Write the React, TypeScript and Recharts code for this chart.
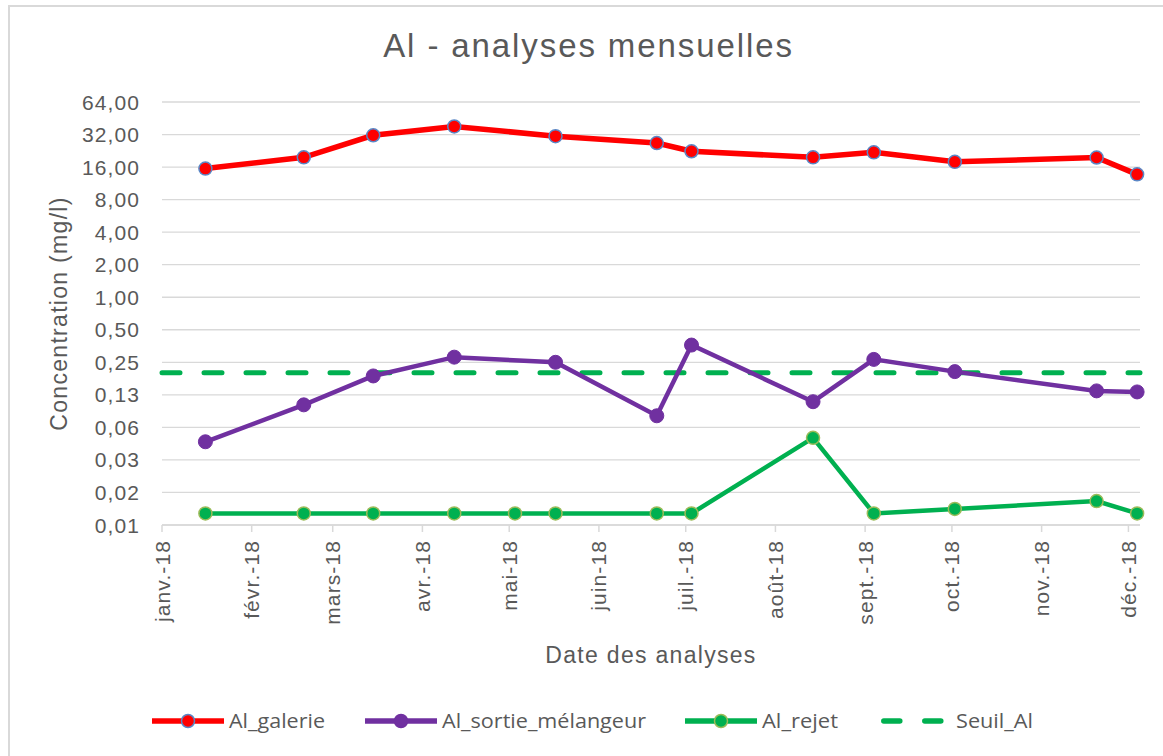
import { LineChart, Line, XAxis, YAxis, CartesianGrid, ReferenceLine, Label } from "recharts";

const sampleDates = [
  "2018-01-16", "2018-02-19", "2018-03-15", "2018-04-12", "2018-05-03", "2018-05-17", "2018-06-21",
  "2018-07-03", "2018-08-14", "2018-09-04", "2018-10-02", "2018-11-20", "2018-12-04",
];
const alGalerie = [15.5, 19.7, 31.5, 38, null, 30.9, 26.7, 22.4, 19.7, 21.9, 17.9, 19.6, 13.7];
const alSortieMelangeur = [0.046, 0.101, 0.187, 0.279, null, 0.25, 0.08, 0.361, 0.108, 0.266, 0.205, 0.136, 0.133];
const alRejet = [0.01, 0.01, 0.01, 0.01, 0.01, 0.01, 0.01, 0.01, 0.05, 0.01, 0.011, 0.013, 0.01];
const seuilAl = 0.2;

const monthStarts = [
  "2018-01-01", "2018-02-01", "2018-03-01", "2018-04-01", "2018-05-01", "2018-06-01",
  "2018-07-01", "2018-08-01", "2018-09-01", "2018-10-01", "2018-11-01", "2018-12-01",
];
const monthLabels = [
  "janv.-18", "févr.-18", "mars-18", "avr.-18", "mai-18", "juin-18",
  "juil.-18", "août-18", "sept.-18", "oct.-18", "nov.-18", "déc.-18",
];
const axisEndDate = "2018-12-05";
const yTicks = [0.0078125, 0.015625, 0.03125, 0.0625, 0.125, 0.25, 0.5, 1, 2, 4, 8, 16, 32, 64];

const DAY = 86400000;
const toDay = (s: string) => (Date.parse(s) - Date.parse("2018-01-01")) / DAY;

const data = sampleDates.map((d, i) => ({
  day: toDay(d),
  galerie: alGalerie[i],
  melangeur: alSortieMelangeur[i],
  rejet: alRejet[i],
}));
const monthTicks = monthStarts.map(toDay);

const TEXT = "#595959";
const FONT = "'Liberation Sans', Arial, sans-serif";
const RED = "#FF0000";
const BLUE = "#5A87C6";
const PURPLE = "#7030A0";
const GREEN = "#00B050";
const OLIVE = "#9BBB59";

const MonthTick = ({ x, y, payload }: any) => {
  const label = monthLabels[monthTicks.indexOf(payload.value)];
  return (
    <text
      x={x}
      y={y}
      dy="0.36em"
      transform={`rotate(-90 ${x} ${y})`}
      textAnchor="end"
      fill={TEXT}
      fontSize={21}
      fontFamily={FONT}
      letterSpacing={1.1}
    >
      {label}
    </text>
  );
};

const ValueTick = ({ x, y, payload }: any) => (
  <text x={x} y={y} dy="0.36em" textAnchor="end" fill={TEXT} fontSize={21} fontFamily={FONT} letterSpacing={1.1}>
    {payload.value.toFixed(2).replace(".", ",")}
  </text>
);

// legend placement (Excel-style row under the chart)
const legendItems = [
  { name: "Al_galerie", color: RED, marker: BLUE, left: 152, textWidth: 96 },
  { name: "Al_sortie_mélangeur", color: PURPLE, marker: PURPLE, left: 365, textWidth: 204 },
  { name: "Al_rejet", color: GREEN, marker: OLIVE, left: 685, textWidth: 76 },
  { name: "Seuil_Al", color: GREEN, marker: null, left: 881, textWidth: 77 },
];

const ChartLegend = () => (
  <svg width={1163} height={40} style={{ position: "absolute", left: 0, top: 701 }}>
    {legendItems.map((it) => (
      <g key={it.name} transform={`translate(${it.left}, 20)`}>
        {it.marker ? (
          <>
            <line x1={0} y1={0} x2={72} y2={0} stroke={it.color} strokeWidth={5.5} />
            <circle cx={36} cy={0} r={6.5} fill={it.color} stroke={it.marker} strokeWidth={1.5} />
          </>
        ) : (
          <line x1={2.8} y1={0} x2={62} y2={0} stroke={it.color} strokeWidth={5.5} strokeDasharray="16 25" strokeLinecap="round" />
        )}
        <text
          x={it.marker ? 77 : 75}
          y={0}
          dy="0.36em"
          fill={TEXT}
          fontSize={20}
          fontFamily="'Open Sans', sans-serif"
          textLength={it.textWidth}
          lengthAdjust="spacingAndGlyphs"
        >
          {it.name}
        </text>
      </g>
    ))}
  </svg>
);

export default function App() {
  return (
    <div style={{ position: "absolute", left: 0, top: 0, width: 1163, height: 756, overflow: "hidden", background: "#fff" }}>
      <div
        style={{
          position: "absolute",
          left: 8,
          top: 5,
          width: 1200,
          height: 800,
          borderLeft: "2px solid #d9d9d9",
          borderTop: "2px solid #d9d9d9",
        }}
      />
      <div
        style={{
          position: "absolute",
          left: 0,
          width: 1163,
          top: 27,
          textAlign: "center",
          paddingLeft: 14,
          boxSizing: "border-box",
          fontFamily: FONT,
          fontSize: 33,
          letterSpacing: 1.9,
          color: TEXT,
        }}
      >
        Al - analyses mensuelles
      </div>
      <div style={{ position: "absolute", left: 0, top: 0 }}>
        <LineChart width={1163} height={756} data={data} margin={{ top: 102, right: 23, bottom: 91, left: 0 }}>
          <CartesianGrid vertical={false} stroke="#d9d9d9" strokeWidth={1.3} />
          <XAxis
            dataKey="day"
            type="number"
            domain={[0, toDay(axisEndDate)]}
            ticks={monthTicks}
            interval={0}
            height={140}
            tick={<MonthTick />}
            tickSize={7}
            tickMargin={8}
            stroke="#d9d9d9"
            strokeWidth={1.5}
          >
            <Label
              content={({ viewBox }: any) => (
                <text
                  x={viewBox.x + viewBox.width / 2}
                  y={viewBox.y + 130}
                  dy="0.35em"
                  textAnchor="middle"
                  fill={TEXT}
                  fontSize={23}
                  fontFamily={FONT}
                  letterSpacing={1.3}
                >
                  Date des analyses
                </text>
              )}
            />
          </XAxis>
          <YAxis
            scale="log"
            type="number"
            domain={[0.0078125, 64]}
            ticks={yTicks}
            interval={0}
            allowDataOverflow
            width={162}
            axisLine={false}
            tickLine={false}
            tickSize={0}
            tickMargin={22}
            tick={<ValueTick />}
          >
            <Label
              content={({ viewBox }: any) => {
                const cx = viewBox.x + 59;
                const cy = viewBox.y + viewBox.height / 2;
                return (
                  <text
                    x={cx}
                    y={cy}
                    dy="0.35em"
                    transform={`rotate(-90 ${cx} ${cy})`}
                    textAnchor="middle"
                    fill={TEXT}
                    fontSize={23}
                    fontFamily={FONT}
                    letterSpacing={1.3}
                  >
                    Concentration (mg/l)
                  </text>
                );
              }}
            />
          </YAxis>
          <ReferenceLine y={seuilAl} stroke={GREEN} strokeWidth={5} strokeDasharray="18 24" strokeLinecap="round" />
          <Line
            dataKey="rejet"
            stroke={GREEN}
            strokeWidth={4.5}
            dot={{ r: 6.5, fill: GREEN, stroke: OLIVE, strokeWidth: 1.5 }}
            isAnimationActive={false}
          />
          <Line
            dataKey="melangeur"
            stroke={PURPLE}
            strokeWidth={4.5}
            connectNulls
            dot={{ r: 7, fill: PURPLE, stroke: PURPLE, strokeWidth: 1 }}
            isAnimationActive={false}
          />
          <Line
            dataKey="galerie"
            stroke={RED}
            strokeWidth={5.5}
            connectNulls
            dot={{ r: 6.5, fill: RED, stroke: BLUE, strokeWidth: 1.5 }}
            isAnimationActive={false}
          />
        </LineChart>
      </div>
      <ChartLegend />
    </div>
  );
}
